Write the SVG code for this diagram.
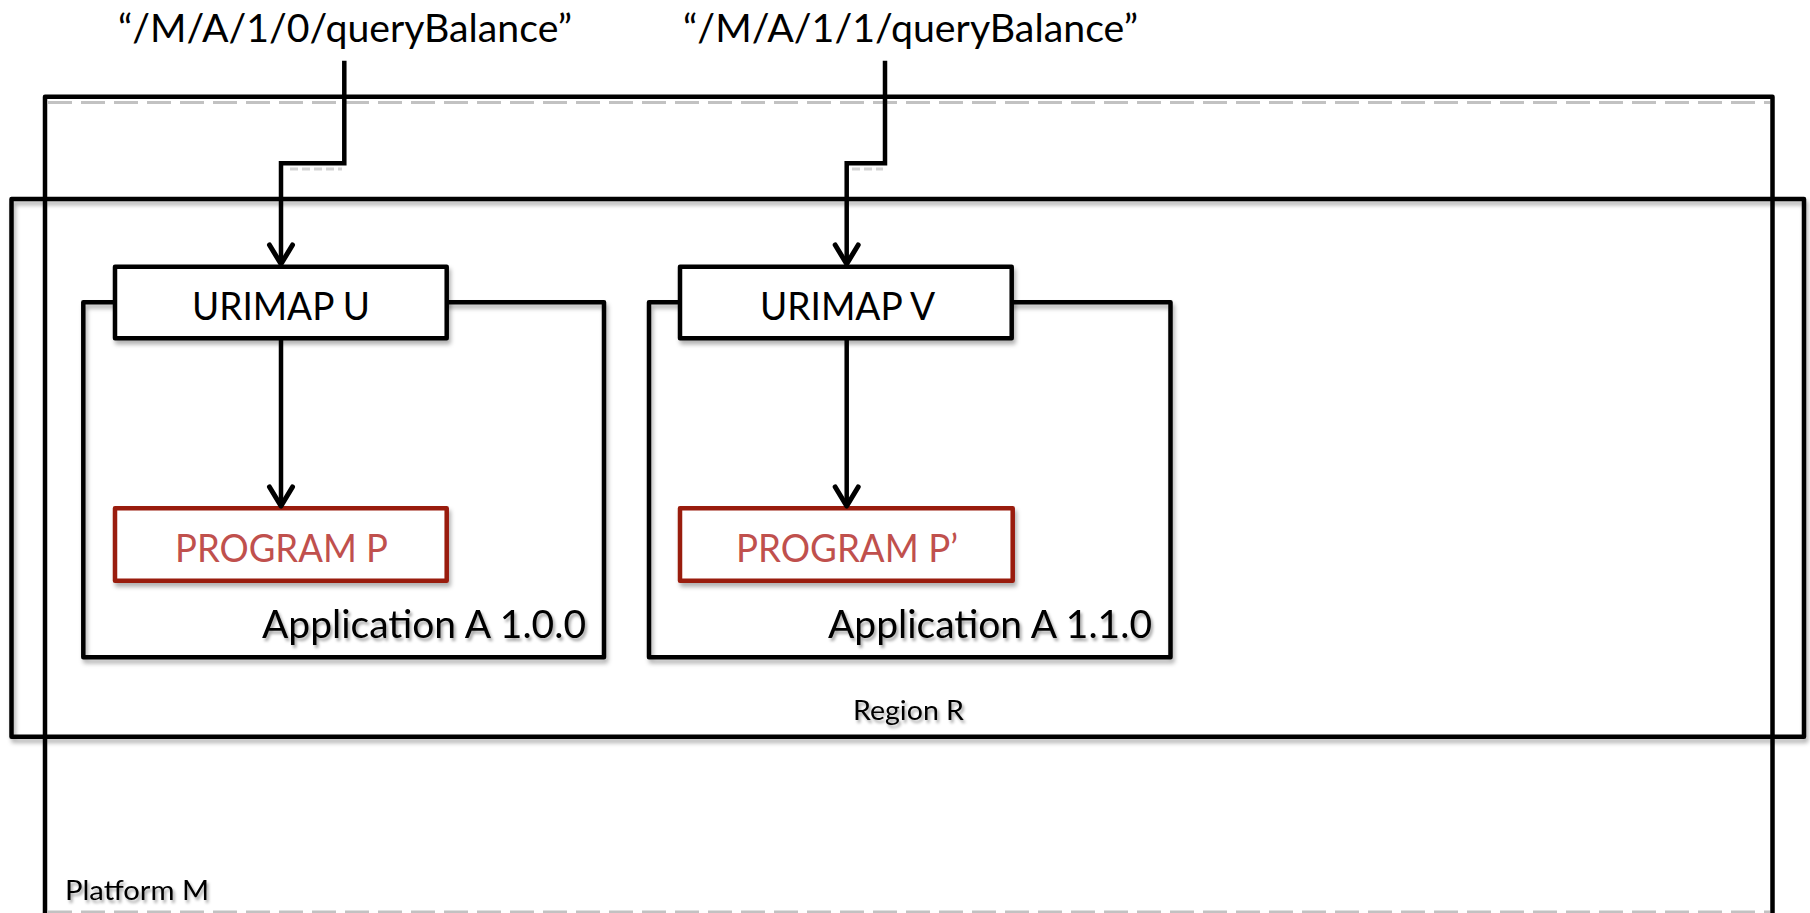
<svg xmlns="http://www.w3.org/2000/svg" width="1810" height="913" viewBox="0 0 1810 913">
  <style>
    .box { fill: none; stroke: #000; stroke-width: 4.5; stroke-linejoin: round; }
    .wbox { fill: #fff; stroke: #000; stroke-width: 4.5; stroke-linejoin: round; }
    .prog { fill: #fff; stroke: #991a0c; stroke-width: 4.5; stroke-linejoin: round; }
    .conn { fill: none; stroke: #000; stroke-width: 4.5; stroke-linejoin: miter; }
    .dshadow { fill: none; stroke: #c2c2c2; stroke-width: 3; stroke-dasharray: 24 9; }
    .big { font-family: Lato, "Liberation Sans", sans-serif; font-size: 38px; fill: #000; }
    .ptext { font-family: Lato, "Liberation Sans", sans-serif; font-size: 38px; fill: #c0504d; }
    .small { font-family: Lato, "Liberation Sans", sans-serif; font-size: 26px; fill: #000; }
  </style>
  <defs>
    <filter id="sh" x="-5%" y="-5%" width="115%" height="130%">
      <feDropShadow dx="2" dy="4" stdDeviation="2" flood-color="#000" flood-opacity="0.3"/>
    </filter>
    <filter id="tsh" x="-5%" y="-20%" width="115%" height="160%">
      <feDropShadow dx="2" dy="3" stdDeviation="1.5" flood-color="#000" flood-opacity="0.35"/>
    </filter>
    <marker id="arr" markerUnits="userSpaceOnUse" markerWidth="40" markerHeight="40" refX="0" refY="0" orient="auto" overflow="visible">
      <path d="M -19 -11.5 L 0 0 L -19 11.5" fill="none" stroke="#000" stroke-width="5" stroke-linejoin="round" stroke-linecap="round"/>
    </marker>
  </defs>

  <rect width="1810" height="913" fill="#fff"/>

  <g id="platform-M">
    <line class="dshadow" x1="48" y1="102.5" x2="1770" y2="102.5"/>
    <line class="dshadow" x1="48" y1="912" x2="1770" y2="912" stroke="#ebebeb"/>
    <path class="box" d="M 45 930 L 45 96.7 L 1772.5 96.7 L 1772.5 930"/>
    <text class="small" x="65" y="900" textLength="144" lengthAdjust="spacingAndGlyphs" filter="url(#tsh)">Platform M</text>
  </g>

  <g id="region-R">
    <rect class="box" x="11.5" y="199" width="1792.5" height="537.7" filter="url(#sh)"/>
    <text class="small" x="853" y="720" textLength="111" lengthAdjust="spacingAndGlyphs" filter="url(#tsh)">Region R</text>
  </g>

  <g id="app-A-100">
    <rect class="box" x="83.3" y="302.3" width="520.7" height="355" filter="url(#sh)"/>
    <text class="big" x="262" y="638" textLength="324" lengthAdjust="spacingAndGlyphs" filter="url(#tsh)">Application A 1.0.0</text>
  </g>

  <g id="app-A-110">
    <rect class="box" x="649" y="302.3" width="521.5" height="355" filter="url(#sh)"/>
    <text class="big" x="828" y="638" textLength="324" lengthAdjust="spacingAndGlyphs" filter="url(#tsh)">Application A 1.1.0</text>
  </g>

  <g id="urimap-U">
    <rect class="wbox" x="115" y="266.7" width="331.7" height="71.6" filter="url(#sh)"/>
    <text class="big" x="192" y="320" textLength="178" lengthAdjust="spacingAndGlyphs">URIMAP U</text>
  </g>

  <g id="urimap-V">
    <rect class="wbox" x="680" y="266.7" width="331.7" height="71.6" filter="url(#sh)"/>
    <text class="big" x="760" y="320" textLength="175" lengthAdjust="spacingAndGlyphs">URIMAP V</text>
  </g>

  <g id="program-P">
    <rect class="prog" x="115" y="508.3" width="331.7" height="72.4" filter="url(#sh)"/>
    <text class="ptext" x="175" y="562" textLength="213" lengthAdjust="spacingAndGlyphs">PROGRAM P</text>
  </g>

  <g id="program-P2">
    <rect class="prog" x="680" y="508.3" width="332.7" height="72.4" filter="url(#sh)"/>
    <text class="ptext" x="736" y="562" textLength="222" lengthAdjust="spacingAndGlyphs">PROGRAM P’</text>
  </g>

  <g id="label-uri-0">
    <text class="big" x="118" y="42" textLength="454" lengthAdjust="spacingAndGlyphs">“/M/A/1/0/queryBalance”</text>
  </g>

  <g id="label-uri-1">
    <text class="big" x="683" y="42" textLength="455" lengthAdjust="spacingAndGlyphs">“/M/A/1/1/queryBalance”</text>
  </g>

  <g id="connectors">
    <line x1="290" y1="169" x2="342" y2="169" stroke="#d4d4d4" stroke-width="3" stroke-dasharray="8 4"/>
    <line x1="852" y1="169" x2="883" y2="169" stroke="#d4d4d4" stroke-width="3" stroke-dasharray="8 4"/>
    <path class="conn" d="M 344.3 60.7 L 344.3 163.3 L 281 163.3 L 281 264" marker-end="url(#arr)"/>
    <path class="conn" d="M 885 60.7 L 885 163.3 L 846.7 163.3 L 846.7 264" marker-end="url(#arr)"/>
    <path class="conn" d="M 281 340 L 281 506" marker-end="url(#arr)"/>
    <path class="conn" d="M 846.7 340 L 846.7 506" marker-end="url(#arr)"/>
  </g>
</svg>
